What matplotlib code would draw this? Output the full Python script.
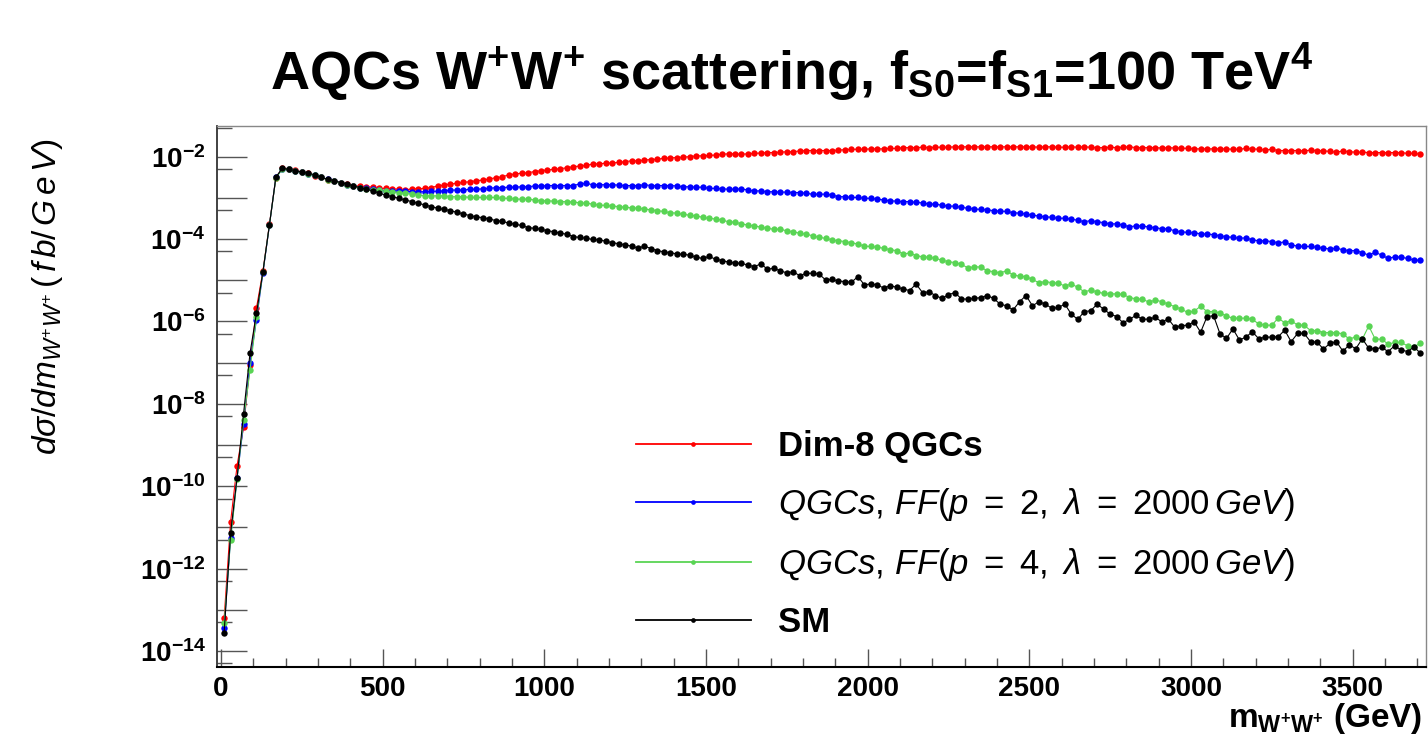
import numpy as np
import matplotlib
matplotlib.use("Agg")
import matplotlib.pyplot as plt
from matplotlib.lines import Line2D
from matplotlib.ticker import FixedLocator, FuncFormatter, MultipleLocator

plt.rcParams['font.family'] = ['Liberation Sans', 'DejaVu Sans']
plt.rcParams['mathtext.fontset'] = 'custom'
plt.rcParams['mathtext.rm'] = 'Liberation Sans'
plt.rcParams['mathtext.it'] = 'Liberation Sans:italic'
plt.rcParams['mathtext.bf'] = 'Liberation Sans:bold'

# bin centres (20 GeV bins)
mww = np.arange(10, 3720, 20)

# log10(dsigma/dm) per bin
log_dim8 = [
    -13.20, -10.86, -9.50, -8.57, -7.06, -5.67, -4.78, -3.64, -2.51, -2.28,
    -2.30, -2.33, -2.37, -2.40, -2.47, -2.50, -2.56, -2.59, -2.63, -2.67,
    -2.70, -2.72, -2.73, -2.74, -2.77, -2.77, -2.78, -2.79, -2.81, -2.78,
    -2.78, -2.77, -2.75, -2.71, -2.69, -2.66, -2.65, -2.62, -2.61, -2.58,
    -2.57, -2.54, -2.51, -2.49, -2.44, -2.42, -2.40, -2.39, -2.36, -2.34,
    -2.32, -2.31, -2.29, -2.27, -2.24, -2.23, -2.21, -2.18, -2.17, -2.16,
    -2.15, -2.14, -2.12, -2.10, -2.10, -2.08, -2.07, -2.06, -2.04, -2.03,
    -2.02, -2.01, -2.00, -1.98, -1.98, -1.97, -1.96, -1.94, -1.93, -1.93,
    -1.94, -1.93, -1.92, -1.91, -1.90, -1.90, -1.89, -1.88, -1.88, -1.86,
    -1.85, -1.85, -1.85, -1.85, -1.85, -1.84, -1.83, -1.82, -1.82, -1.82,
    -1.81, -1.81, -1.81, -1.80, -1.80, -1.78, -1.78, -1.78, -1.77, -1.78,
    -1.77, -1.77, -1.77, -1.76, -1.76, -1.76, -1.76, -1.76, -1.76, -1.76,
    -1.76, -1.76, -1.76, -1.76, -1.76, -1.76, -1.77, -1.76, -1.76, -1.77,
    -1.77, -1.76, -1.77, -1.76, -1.77, -1.78, -1.78, -1.77, -1.78, -1.77,
    -1.76, -1.78, -1.78, -1.78, -1.78, -1.79, -1.78, -1.79, -1.79, -1.80,
    -1.81, -1.81, -1.81, -1.81, -1.81, -1.81, -1.82, -1.82, -1.80, -1.81,
    -1.82, -1.84, -1.82, -1.85, -1.85, -1.85, -1.85, -1.86, -1.84, -1.85,
    -1.86, -1.87, -1.89, -1.86, -1.88, -1.89, -1.89, -1.90, -1.90, -1.90,
    -1.90, -1.90, -1.90, -1.92, -1.92, -1.94,
]

log_ff_p2 = [
    -13.45, -11.25, -9.80, -8.49, -7.00, -5.96, -4.82, -3.67, -2.50, -2.30,
    -2.31, -2.35, -2.38, -2.42, -2.45, -2.50, -2.55, -2.59, -2.63, -2.68,
    -2.72, -2.75, -2.77, -2.79, -2.81, -2.83, -2.83, -2.83, -2.83, -2.85,
    -2.85, -2.85, -2.84, -2.84, -2.83, -2.81, -2.81, -2.81, -2.79, -2.79,
    -2.78, -2.77, -2.75, -2.75, -2.74, -2.74, -2.73, -2.73, -2.71, -2.71,
    -2.70, -2.70, -2.70, -2.70, -2.70, -2.66, -2.65, -2.68, -2.68, -2.68,
    -2.68, -2.69, -2.70, -2.70, -2.70, -2.68, -2.70, -2.70, -2.70, -2.70,
    -2.71, -2.73, -2.73, -2.74, -2.74, -2.77, -2.77, -2.78, -2.79, -2.79,
    -2.78, -2.81, -2.83, -2.83, -2.85, -2.85, -2.86, -2.86, -2.87, -2.87,
    -2.89, -2.91, -2.91, -2.91, -2.93, -2.97, -2.97, -2.99, -2.99, -3.01,
    -3.01, -3.03, -3.05, -3.07, -3.08, -3.09, -3.09, -3.11, -3.12, -3.15,
    -3.15, -3.18, -3.20, -3.20, -3.23, -3.25, -3.27, -3.28, -3.29, -3.31,
    -3.32, -3.33, -3.36, -3.37, -3.39, -3.42, -3.44, -3.46, -3.47, -3.50,
    -3.49, -3.52, -3.54, -3.58, -3.55, -3.58, -3.60, -3.63, -3.63, -3.66,
    -3.70, -3.68, -3.68, -3.71, -3.72, -3.75, -3.75, -3.80, -3.82, -3.84,
    -3.85, -3.87, -3.88, -3.89, -3.92, -3.94, -3.96, -3.98, -3.97, -4.02,
    -4.04, -4.04, -4.06, -4.09, -4.07, -4.14, -4.17, -4.18, -4.18, -4.20,
    -4.22, -4.24, -4.22, -4.26, -4.28, -4.28, -4.33, -4.39, -4.32, -4.39,
    -4.47, -4.43, -4.44, -4.47, -4.51, -4.51,
]

log_ff_p4 = [
    -13.33, -11.30, -9.82, -8.40, -7.18, -5.90, -4.80, -3.66, -2.52, -2.30,
    -2.31, -2.34, -2.38, -2.41, -2.45, -2.50, -2.56, -2.59, -2.64, -2.68,
    -2.72, -2.76, -2.79, -2.81, -2.82, -2.84, -2.85, -2.87, -2.89, -2.91,
    -2.93, -2.95, -2.95, -2.95, -2.95, -2.97, -2.97, -2.97, -2.99, -2.99,
    -2.99, -2.99, -2.99, -3.01, -3.01, -3.03, -3.03, -3.03, -3.05, -3.07,
    -3.07, -3.08, -3.09, -3.09, -3.10, -3.12, -3.13, -3.15, -3.18, -3.18,
    -3.20, -3.21, -3.23, -3.24, -3.25, -3.27, -3.29, -3.31, -3.33, -3.36,
    -3.37, -3.40, -3.42, -3.44, -3.47, -3.50, -3.51, -3.54, -3.58, -3.59,
    -3.63, -3.66, -3.68, -3.71, -3.74, -3.76, -3.76, -3.80, -3.82, -3.86,
    -3.88, -3.92, -3.96, -3.98, -4.02, -4.04, -4.06, -4.09, -4.12, -4.17,
    -4.18, -4.20, -4.22, -4.26, -4.28, -4.36, -4.34, -4.40, -4.43, -4.44,
    -4.47, -4.51, -4.55, -4.57, -4.61, -4.70, -4.67, -4.68, -4.77, -4.79,
    -4.82, -4.77, -4.87, -4.90, -4.91, -4.98, -5.06, -5.03, -5.06, -5.07,
    -5.14, -5.09, -5.17, -5.28, -5.24, -5.28, -5.32, -5.33, -5.33, -5.34,
    -5.42, -5.45, -5.46, -5.53, -5.48, -5.52, -5.58, -5.64, -5.70, -5.78,
    -5.75, -5.63, -5.76, -5.76, -5.79, -5.87, -5.92, -5.92, -5.92, -5.95,
    -6.06, -6.09, -6.09, -5.92, -6.03, -5.98, -6.09, -6.09, -6.22, -6.22,
    -6.27, -6.27, -6.27, -6.30, -6.43, -6.37, -6.43, -6.11, -6.43, -6.43,
    -6.55, -6.51, -6.51, -6.59, -6.61, -6.53,
]

log_sm = [
    -13.55, -11.14, -9.79, -8.24, -6.77, -5.80, -4.79, -3.66, -2.50, -2.28,
    -2.31, -2.34, -2.37, -2.40, -2.44, -2.50, -2.55, -2.58, -2.63, -2.66,
    -2.71, -2.75, -2.79, -2.83, -2.89, -2.93, -2.97, -3.01, -3.05, -3.09,
    -3.13, -3.17, -3.21, -3.25, -3.28, -3.31, -3.35, -3.39, -3.43, -3.46,
    -3.48, -3.51, -3.55, -3.57, -3.61, -3.64, -3.67, -3.72, -3.74, -3.76,
    -3.80, -3.82, -3.86, -3.88, -3.94, -3.96, -3.98, -4.01, -4.02, -4.05,
    -4.09, -4.11, -4.14, -4.17, -4.22, -4.17, -4.23, -4.28, -4.31, -4.33,
    -4.36, -4.37, -4.39, -4.44, -4.47, -4.42, -4.49, -4.52, -4.56, -4.58,
    -4.59, -4.63, -4.67, -4.60, -4.73, -4.71, -4.77, -4.82, -4.79, -4.89,
    -4.83, -4.83, -4.85, -4.99, -4.98, -5.02, -5.03, -5.05, -4.91, -5.11,
    -5.09, -5.11, -5.19, -5.13, -5.17, -5.21, -5.25, -5.09, -5.30, -5.28,
    -5.37, -5.44, -5.35, -5.30, -5.45, -5.46, -5.44, -5.42, -5.37, -5.44,
    -5.58, -5.62, -5.72, -5.52, -5.37, -5.62, -5.52, -5.58, -5.68, -5.66,
    -5.58, -5.82, -5.95, -5.76, -5.74, -5.58, -5.70, -5.82, -5.88, -6.03,
    -5.95, -5.85, -5.95, -5.94, -5.90, -6.01, -5.94, -6.14, -6.10, -6.09,
    -6.01, -6.26, -5.88, -5.86, -6.30, -6.41, -6.18, -6.45, -6.38, -6.25,
    -6.42, -6.38, -6.38, -6.37, -6.21, -6.49, -6.29, -6.29, -6.49, -6.50,
    -6.67, -6.53, -6.49, -6.72, -6.57, -6.66, -6.42, -6.65, -6.67, -6.63,
    -6.73, -6.59, -6.69, -6.73, -6.62, -6.77,
]

series = [
    (log_dim8, "#ff0000", "Dim-8 QGCs"),
    (log_ff_p2, "#0000ff", r"$QGCs,\,FF(p\ =\ 2,\ \lambda\ =\ 2000\,GeV)$"),
    (log_ff_p4, "#59d454", r"$QGCs,\,FF(p\ =\ 4,\ \lambda\ =\ 2000\,GeV)$"),
    (log_sm, "#000000", "SM"),
]

W, H = 1428, 737
fig = plt.figure(figsize=(W / 100, H / 100), dpi=100)
ax = fig.add_axes([216.7 / W, 1 - 666.7 / H, (1426.3 - 216.7) / W, (666.7 - 126) / H])

handles = []
for vals, col, lab in series:
    ax.plot(mww, 10 ** np.array(vals), color=col, lw=0.8, marker='o', ms=4.6, mew=0)
    handles.append(Line2D([], [], color=col, lw=1.3, marker='o', ms=3.4, mew=0))

ax.set_yscale('log')
ax.set_xlim(-13, 3728)
ax.set_ylim(10 ** -14.38, 10 ** -1.255)

# axis ticks, ROOT style (inward)
ax.set_xticks([0, 500, 1000, 1500, 2000, 2500, 3000, 3500])
ax.xaxis.set_minor_locator(MultipleLocator(100))
ax.yaxis.set_major_locator(FixedLocator([10.0 ** e for e in range(-15, 0)]))
ax.yaxis.set_minor_locator(FixedLocator([5 * 10.0 ** e for e in range(-16, 0)]))


def ylab(v, pos):
    e = int(round(np.log10(v)))
    if e % 2 == 0 and -14 <= e <= -2:
        return r"$\mathbf{10^{%d}}$" % e
    return ""


ax.yaxis.set_major_formatter(FuncFormatter(ylab))
ax.yaxis.set_minor_formatter(FuncFormatter(lambda v, p: ""))
ax.tick_params(axis='x', which='major', direction='in', length=13, width=1, color='#555555',
               labelsize=20, pad=7)
ax.tick_params(axis='x', which='minor', direction='in', length=6.5, width=1, color='#555555')
ax.tick_params(axis='y', which='major', direction='in', length=21.5, width=1, color='#555555',
               labelsize=20, pad=8)
ax.tick_params(axis='y', which='minor', direction='in', length=11, width=1, color='#555555')
for t in ax.get_xticklabels():
    t.set_fontweight('bold')

ax.spines['left'].set_color('#333333')
ax.spines['bottom'].set_color('black')
ax.spines['left'].set_linewidth(1.3)
ax.spines['bottom'].set_linewidth(1.5)
for s in ['top', 'right']:
    ax.spines[s].set_color('#888888')
    ax.spines[s].set_linewidth(1.0)

leg = ax.legend(handles, [s[2] for s in series], loc='upper left',
                bbox_to_anchor=(636 / W, 1 - 430 / H), bbox_transform=fig.transFigure,
                frameon=False, fontsize=25, handlelength=3.3, handletextpad=0.8,
                labelspacing=0.66, borderpad=0, borderaxespad=0)
for t in leg.get_texts():
    if not t.get_text().startswith('$'):
        t.set_fontweight('bold')

fig.text(0.554, 1 - 90 / H,
         r"AQCs W$^{\mathbf{+}}$W$^{\mathbf{+}}$ scattering, f$_{\mathbf{S0}}$=f$_{\mathbf{S1}}$=100 TeV$^{\mathbf{4}}$",
         ha='center', va='baseline', fontsize=39, fontweight='bold')
fig.text(0.033, 1 - 297 / H, r"$d\sigma/dm_{W^{+}W^{+}}\,(\,f\,b/\,G\,e\,V)$",
         rotation=90, ha='center', va='center', fontsize=24)
fig.text(1228 / W, 1 - 727 / H, r"$\mathbf{m_{W^{+}W^{+}}\ (GeV)}$",
         ha='left', va='baseline', fontsize=24)

fig.savefig('out.png', dpi=100)
